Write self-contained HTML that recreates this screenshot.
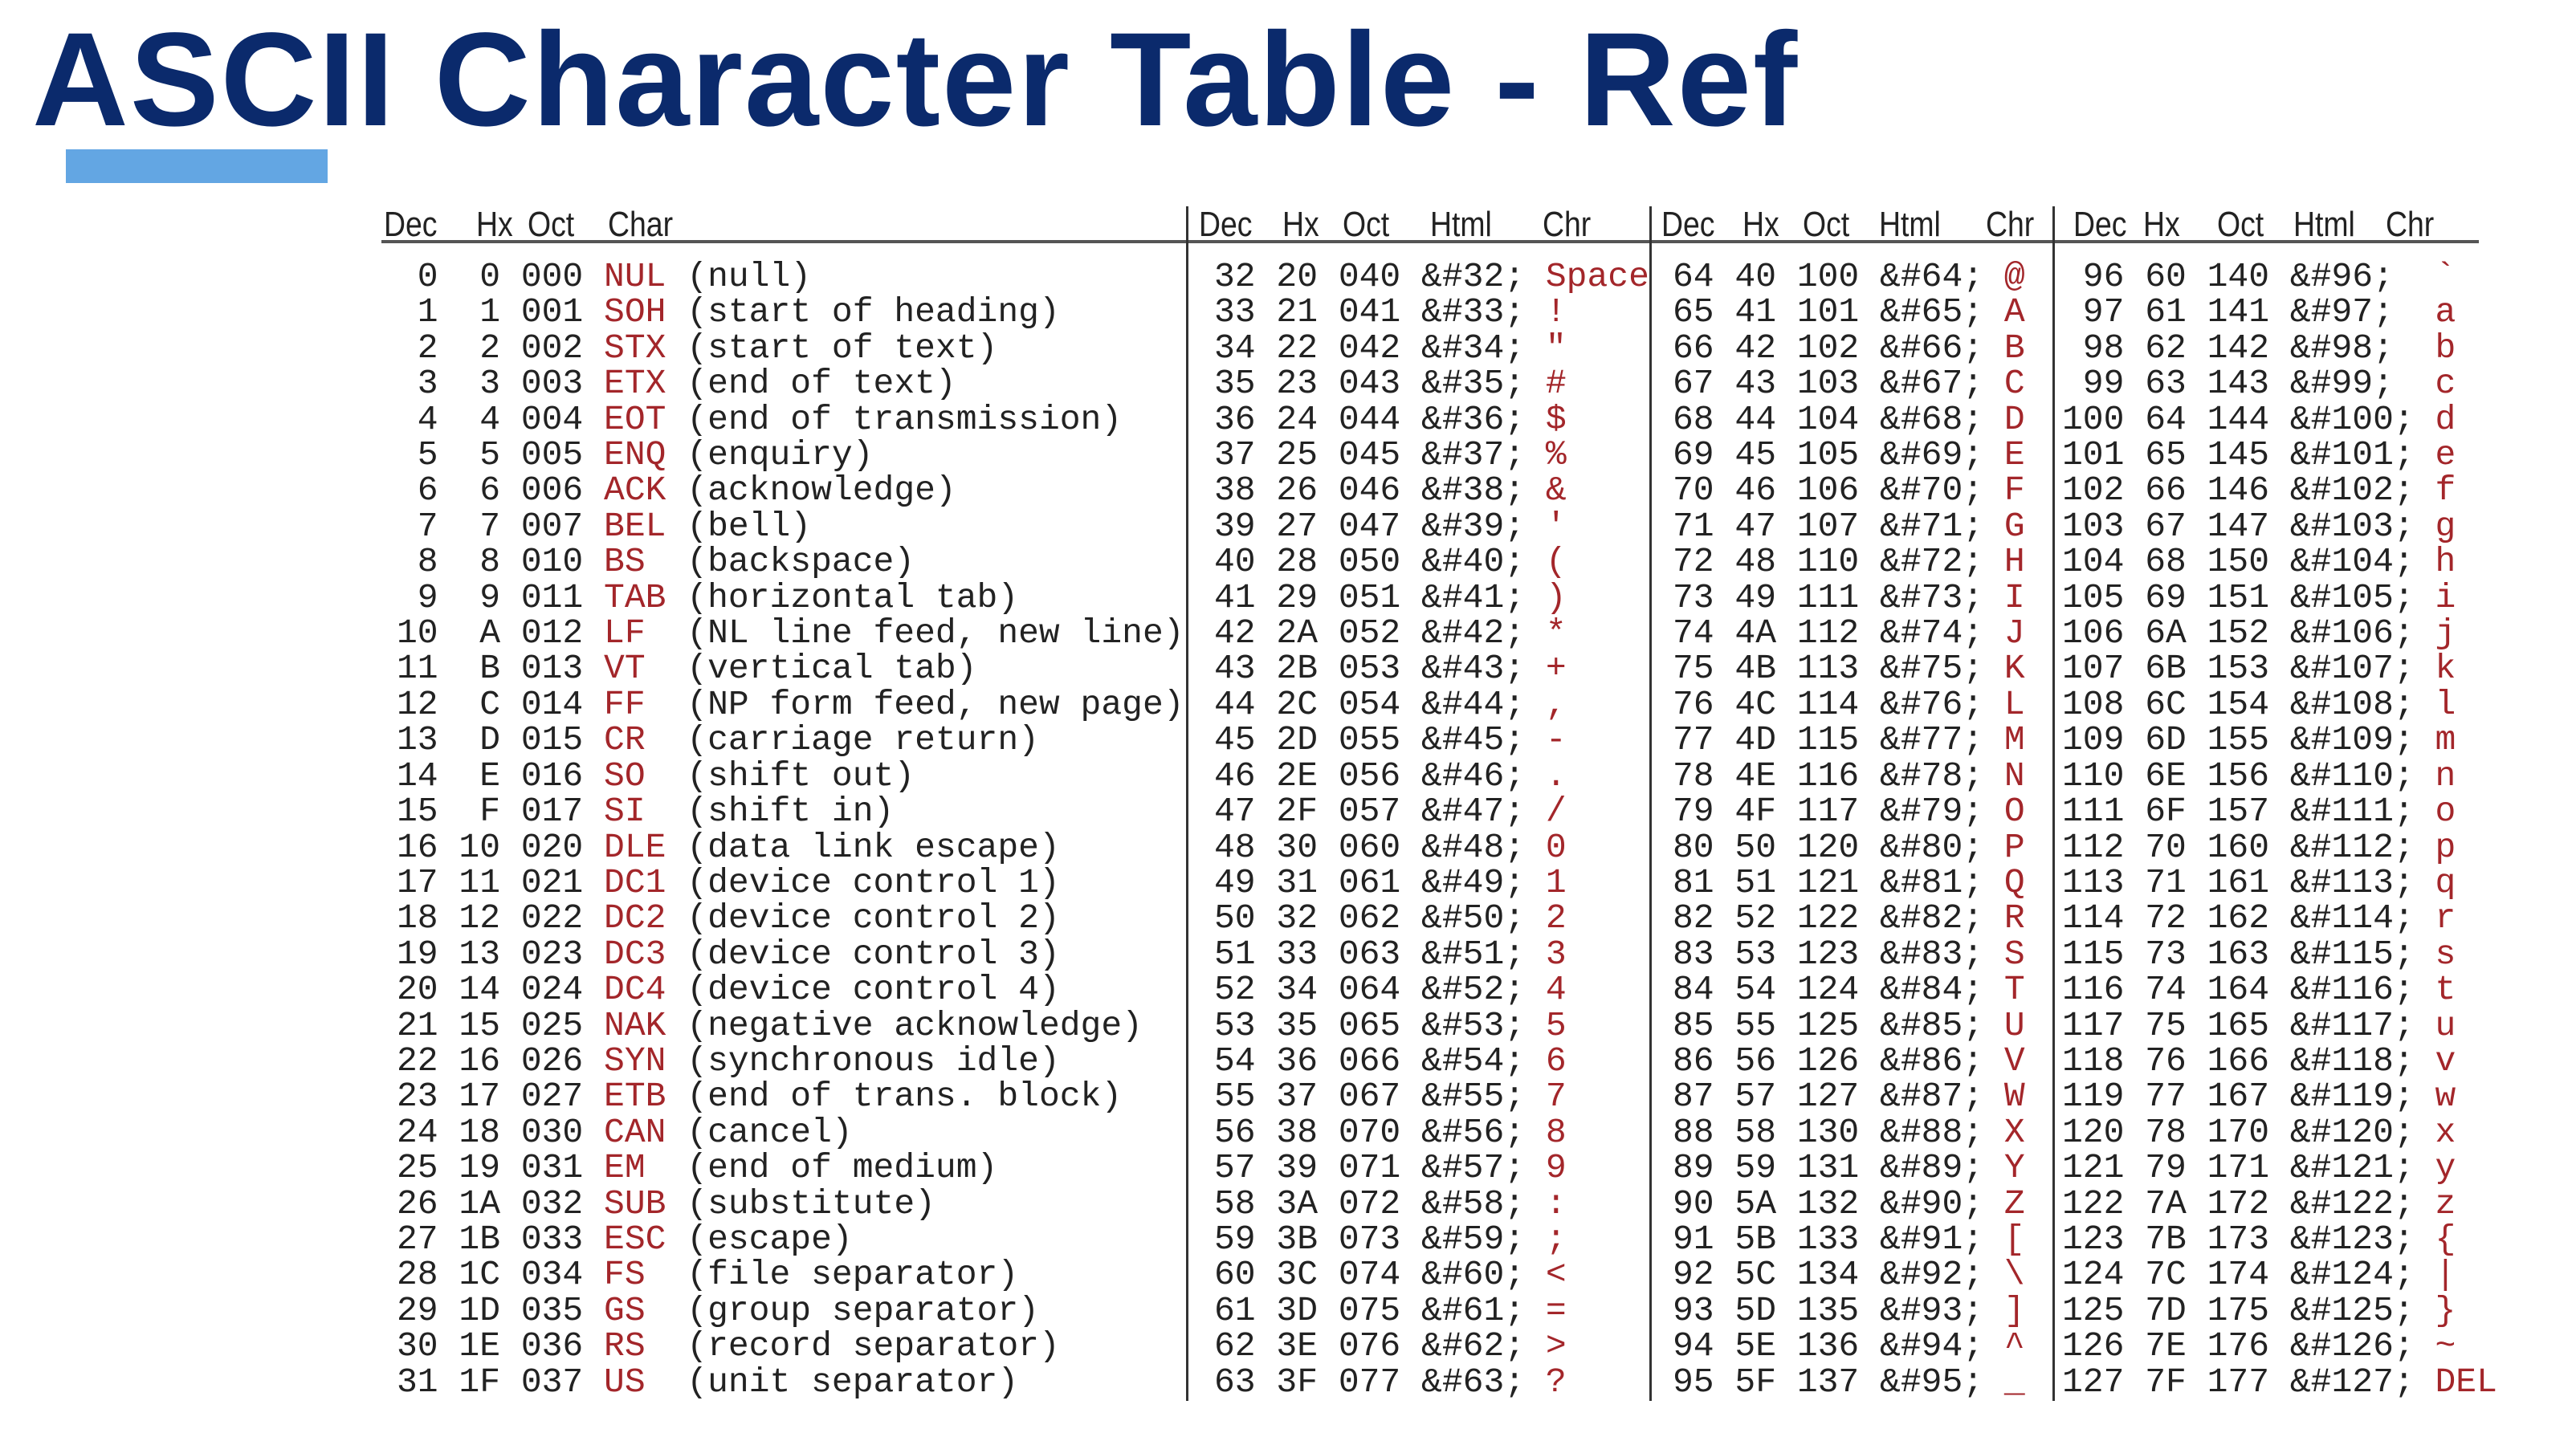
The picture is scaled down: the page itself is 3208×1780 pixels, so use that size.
<!DOCTYPE html>
<html><head><meta charset="utf-8"><style>
html,body{margin:0;padding:0;background:#fff;}
body{width:3208px;height:1780px;position:relative;overflow:hidden;}
.title{position:absolute;left:40px;top:0;font:bold 166px/200px "Liberation Sans",sans-serif;color:#0b2a6c;letter-spacing:2px;white-space:nowrap;}
.bar{position:absolute;left:82px;top:186px;width:326px;height:42px;background:#63a6e3;}
.h{position:absolute;top:258px;font:44px/44px "Liberation Sans",sans-serif;color:#222;white-space:nowrap;transform:scaleX(0.85);transform-origin:left;}
.hl{position:absolute;left:475px;top:299px;width:2612px;height:4px;background:#555;}
.vl{position:absolute;top:257px;width:3px;height:1488px;background:#333;}
pre{position:absolute;top:323px;margin:0;font:43px/44.4px "Liberation Mono",monospace;color:#222;}
pre b{font-weight:normal;color:#a3262a;}
</style></head><body>
<div class="title">ASCII Character Table - Ref</div>
<div class="bar"></div>
<div class="h" style="left:478px">Dec</div><div class="h" style="left:593px">Hx</div><div class="h" style="left:657px">Oct</div><div class="h" style="left:757px">Char</div>
<div class="h" style="left:1493px">Dec</div><div class="h" style="left:1597px">Hx</div><div class="h" style="left:1672px">Oct</div><div class="h" style="left:1781px">Html</div><div class="h" style="left:1921px">Chr</div>
<div class="h" style="left:2069px">Dec</div><div class="h" style="left:2170px">Hx</div><div class="h" style="left:2245px">Oct</div><div class="h" style="left:2340px">Html</div><div class="h" style="left:2473px">Chr</div>
<div class="h" style="left:2582px">Dec</div><div class="h" style="left:2669px">Hx</div><div class="h" style="left:2761px">Oct</div><div class="h" style="left:2856px">Html</div><div class="h" style="left:2971px">Chr</div>
<div class="hl"></div>
<div class="vl" style="left:1477px"></div>
<div class="vl" style="left:2054px"></div>
<div class="vl" style="left:2556px"></div>
<pre style="left:494px"> 0  0 000 <b>NUL</b> (null)
 1  1 001 <b>SOH</b> (start of heading)
 2  2 002 <b>STX</b> (start of text)
 3  3 003 <b>ETX</b> (end of text)
 4  4 004 <b>EOT</b> (end of transmission)
 5  5 005 <b>ENQ</b> (enquiry)
 6  6 006 <b>ACK</b> (acknowledge)
 7  7 007 <b>BEL</b> (bell)
 8  8 010 <b>BS</b>  (backspace)
 9  9 011 <b>TAB</b> (horizontal tab)
10  A 012 <b>LF</b>  (NL line feed, new line)
11  B 013 <b>VT</b>  (vertical tab)
12  C 014 <b>FF</b>  (NP form feed, new page)
13  D 015 <b>CR</b>  (carriage return)
14  E 016 <b>SO</b>  (shift out)
15  F 017 <b>SI</b>  (shift in)
16 10 020 <b>DLE</b> (data link escape)
17 11 021 <b>DC1</b> (device control 1)
18 12 022 <b>DC2</b> (device control 2)
19 13 023 <b>DC3</b> (device control 3)
20 14 024 <b>DC4</b> (device control 4)
21 15 025 <b>NAK</b> (negative acknowledge)
22 16 026 <b>SYN</b> (synchronous idle)
23 17 027 <b>ETB</b> (end of trans. block)
24 18 030 <b>CAN</b> (cancel)
25 19 031 <b>EM</b>  (end of medium)
26 1A 032 <b>SUB</b> (substitute)
27 1B 033 <b>ESC</b> (escape)
28 1C 034 <b>FS</b>  (file separator)
29 1D 035 <b>GS</b>  (group separator)
30 1E 036 <b>RS</b>  (record separator)
31 1F 037 <b>US</b>  (unit separator)</pre>
<pre style="left:1512px">32 20 040 &amp;#32; <b>Space</b>
33 21 041 &amp;#33; <b>!</b>
34 22 042 &amp;#34; <b>"</b>
35 23 043 &amp;#35; <b>#</b>
36 24 044 &amp;#36; <b>$</b>
37 25 045 &amp;#37; <b>%</b>
38 26 046 &amp;#38; <b>&amp;</b>
39 27 047 &amp;#39; <b>'</b>
40 28 050 &amp;#40; <b>(</b>
41 29 051 &amp;#41; <b>)</b>
42 2A 052 &amp;#42; <b>*</b>
43 2B 053 &amp;#43; <b>+</b>
44 2C 054 &amp;#44; <b>,</b>
45 2D 055 &amp;#45; <b>-</b>
46 2E 056 &amp;#46; <b>.</b>
47 2F 057 &amp;#47; <b>/</b>
48 30 060 &amp;#48; <b>0</b>
49 31 061 &amp;#49; <b>1</b>
50 32 062 &amp;#50; <b>2</b>
51 33 063 &amp;#51; <b>3</b>
52 34 064 &amp;#52; <b>4</b>
53 35 065 &amp;#53; <b>5</b>
54 36 066 &amp;#54; <b>6</b>
55 37 067 &amp;#55; <b>7</b>
56 38 070 &amp;#56; <b>8</b>
57 39 071 &amp;#57; <b>9</b>
58 3A 072 &amp;#58; <b>:</b>
59 3B 073 &amp;#59; <b>;</b>
60 3C 074 &amp;#60; <b>&lt;</b>
61 3D 075 &amp;#61; <b>=</b>
62 3E 076 &amp;#62; <b>&gt;</b>
63 3F 077 &amp;#63; <b>?</b></pre>
<pre style="left:2083px">64 40 100 &amp;#64; <b>@</b>
65 41 101 &amp;#65; <b>A</b>
66 42 102 &amp;#66; <b>B</b>
67 43 103 &amp;#67; <b>C</b>
68 44 104 &amp;#68; <b>D</b>
69 45 105 &amp;#69; <b>E</b>
70 46 106 &amp;#70; <b>F</b>
71 47 107 &amp;#71; <b>G</b>
72 48 110 &amp;#72; <b>H</b>
73 49 111 &amp;#73; <b>I</b>
74 4A 112 &amp;#74; <b>J</b>
75 4B 113 &amp;#75; <b>K</b>
76 4C 114 &amp;#76; <b>L</b>
77 4D 115 &amp;#77; <b>M</b>
78 4E 116 &amp;#78; <b>N</b>
79 4F 117 &amp;#79; <b>O</b>
80 50 120 &amp;#80; <b>P</b>
81 51 121 &amp;#81; <b>Q</b>
82 52 122 &amp;#82; <b>R</b>
83 53 123 &amp;#83; <b>S</b>
84 54 124 &amp;#84; <b>T</b>
85 55 125 &amp;#85; <b>U</b>
86 56 126 &amp;#86; <b>V</b>
87 57 127 &amp;#87; <b>W</b>
88 58 130 &amp;#88; <b>X</b>
89 59 131 &amp;#89; <b>Y</b>
90 5A 132 &amp;#90; <b>Z</b>
91 5B 133 &amp;#91; <b>[</b>
92 5C 134 &amp;#92; <b>\</b>
93 5D 135 &amp;#93; <b>]</b>
94 5E 136 &amp;#94; <b>^</b>
95 5F 137 &amp;#95; <b>_</b></pre>
<pre style="left:2568px"> 96 60 140 &amp;#96;  <b>`</b>
 97 61 141 &amp;#97;  <b>a</b>
 98 62 142 &amp;#98;  <b>b</b>
 99 63 143 &amp;#99;  <b>c</b>
100 64 144 &amp;#100; <b>d</b>
101 65 145 &amp;#101; <b>e</b>
102 66 146 &amp;#102; <b>f</b>
103 67 147 &amp;#103; <b>g</b>
104 68 150 &amp;#104; <b>h</b>
105 69 151 &amp;#105; <b>i</b>
106 6A 152 &amp;#106; <b>j</b>
107 6B 153 &amp;#107; <b>k</b>
108 6C 154 &amp;#108; <b>l</b>
109 6D 155 &amp;#109; <b>m</b>
110 6E 156 &amp;#110; <b>n</b>
111 6F 157 &amp;#111; <b>o</b>
112 70 160 &amp;#112; <b>p</b>
113 71 161 &amp;#113; <b>q</b>
114 72 162 &amp;#114; <b>r</b>
115 73 163 &amp;#115; <b>s</b>
116 74 164 &amp;#116; <b>t</b>
117 75 165 &amp;#117; <b>u</b>
118 76 166 &amp;#118; <b>v</b>
119 77 167 &amp;#119; <b>w</b>
120 78 170 &amp;#120; <b>x</b>
121 79 171 &amp;#121; <b>y</b>
122 7A 172 &amp;#122; <b>z</b>
123 7B 173 &amp;#123; <b>{</b>
124 7C 174 &amp;#124; <b>|</b>
125 7D 175 &amp;#125; <b>}</b>
126 7E 176 &amp;#126; <b>~</b>
127 7F 177 &amp;#127; <b>DEL</b></pre>
</body></html>
